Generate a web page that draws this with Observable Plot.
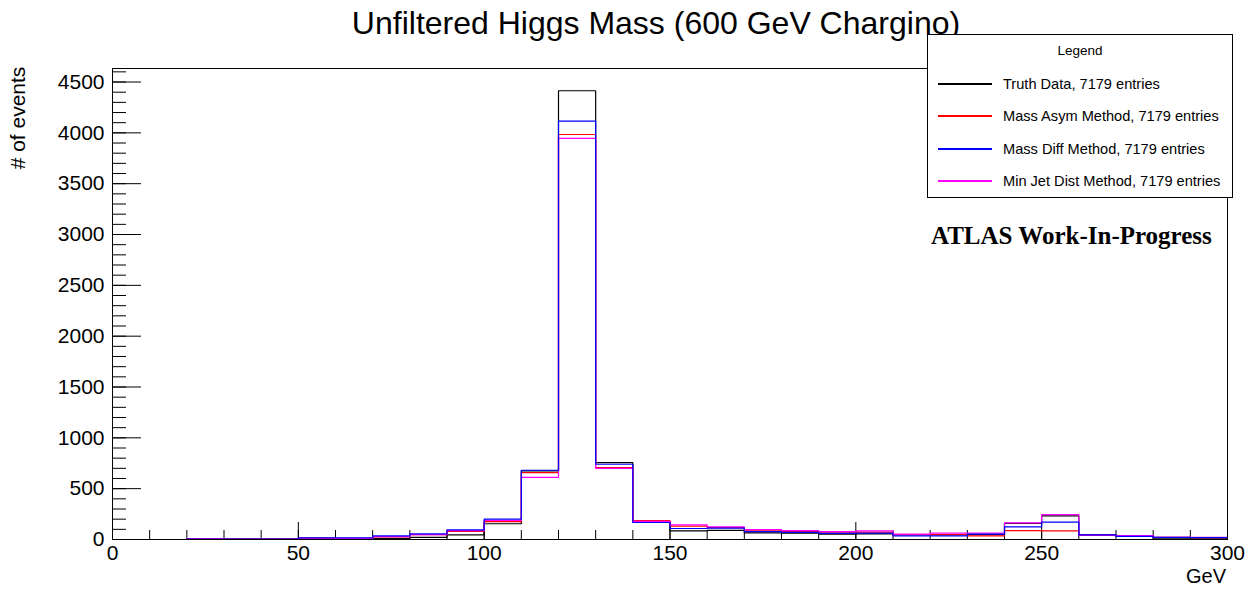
<!DOCTYPE html>
<html>
<head>
<meta charset="utf-8">
<script src="https://cdn.jsdelivr.net/npm/d3@7"></script>
<script src="https://cdn.jsdelivr.net/npm/@observablehq/plot@0.6"></script>
<style>
  html, body { margin: 0; padding: 0; background: white; }
  #wrap { position: relative; width: 1259px; height: 590px; overflow: hidden; font-family: "Liberation Sans", Arial, Helvetica, sans-serif; color: black; }
  .abs { position: absolute; white-space: nowrap; }
  #legend { position: absolute; left: 927px; top: 34px; width: 306px; height: 164px; border: 1px solid black; background: white; box-sizing: border-box; }
  .lg-row { position: absolute; left: 10px; height: 20px; display: flex; align-items: center; font-size: 14.6px; }
  .lg-line { width: 54px; height: 1.3px; margin-right: 11px; }
</style>
</head>
<body>
<div id="wrap"></div>
<script>
// ---- data ----
const binLow = [0,10,20,30,40,50,60,70,80,90,100,110,120,130,140,150,160,170,180,190,200,210,220,230,240,250,260,270,280,290];
const binWidth = 10;
const truthData   = [0,0,3,4,5,7,10,10,20,46,155,675,4414,756,172,85,90,65,62,53,55,47,47,47,158,232,45,30,13,13];
const massAsym    = [0,0,6,4,5,14,12,26,48,80,175,658,3984,707,185,131,117,91,80,72,72,47,47,36,88,85,42,39,20,18];
const massDiff    = [0,0,4,4,5,16,16,36,56,95,200,681,4116,740,167,108,111,78,70,60,62,36,36,52,125,170,45,30,20,18];
const minJetDist  = [0,0,7,5,5,14,12,29,48,88,188,612,3945,700,178,144,124,98,88,78,85,52,62,62,163,245,42,39,20,20];

const seriesNames  = ["Truth Data, 7179 entries","Mass Asym Method, 7179 entries","Mass Diff Method, 7179 entries","Min Jet Dist Method, 7179 entries"];
const seriesColors = ["#000000","#ff0000","#0000ff","#ff00ff"];
const seriesValues = [truthData, massAsym, massDiff, minJetDist];

const xTickLabels = [0,50,100,150,200,250,300];
const yTickLabels = [0,500,1000,1500,2000,2500,3000,3500,4000,4500];
const xMinorTicks = d3.range(0, 301, 10);
const yMinorTicks = d3.range(0, 4601, 100);
const yMax = 4633;

function steps(values) {
  const pts = binLow.map((lo, i) => ({x: lo, y: values[i]}));
  pts.push({x: binLow[binLow.length - 1] + binWidth, y: values[values.length - 1]});
  return pts;
}

const W = 1259, H = 590;
const mL = 112, mR = 32, mT = 68, mB = 51;
const frameW = W - mL - mR, frameH = H - mT - mB;

const drawOrder = [0, 1, 3, 2];

const chart = Plot.plot({
  width: W, height: H,
  marginLeft: mL, marginRight: mR, marginTop: mT, marginBottom: mB,
  style: {fontFamily: "Liberation Sans, Arial, Helvetica, sans-serif", fontSize: "21px", background: "white", color: "black", overflow: "visible"},
  x: {domain: [0, 300]},
  y: {domain: [0, yMax]},
  marks: [
    Plot.tickY(yMinorTicks, {y: d => d, stroke: "black", insetRight: frameW - 14}),
    Plot.tickY(yTickLabels, {y: d => d, stroke: "black", insetRight: frameW - 29}),
    Plot.tickX(xMinorTicks, {x: d => d, stroke: "black", insetTop: frameH - 9}),
    Plot.tickX(xTickLabels, {x: d => d, stroke: "black", insetTop: frameH - 17}),
    ...drawOrder.map(k => Plot.line(steps(seriesValues[k]), {x: "x", y: "y", curve: "step-after", stroke: seriesColors[k], strokeWidth: 1.2})),
    Plot.frame({stroke: "black"}),
    Plot.axisY({ticks: yTickLabels, tickSize: 0, tickPadding: 8, fontSize: 21, label: null, tickFormat: d => String(d)}),
    Plot.axisX({ticks: xTickLabels, tickSize: 0, tickPadding: 6, fontSize: 21, label: null, tickFormat: d => String(d)})
  ]
});

const wrap = document.getElementById("wrap");
chart.style.position = "absolute";
chart.style.left = "0px";
chart.style.top = "0px";
wrap.appendChild(chart);

function addText(txt, css) {
  const d = document.createElement("div");
  d.className = "abs";
  d.textContent = txt;
  Object.assign(d.style, css);
  wrap.appendChild(d);
  return d;
}

addText("Unfiltered Higgs Mass (600 GeV Chargino)", {left: "656px", top: "5px", transform: "translateX(-50%)", fontSize: "32px"});
addText("# of events", {left: "18px", top: "118px", transform: "translate(-50%,-50%) rotate(-90deg)", fontSize: "21px"});
addText("GeV", {right: "33px", top: "565px", fontSize: "20px"});

const legend = document.createElement("div");
legend.id = "legend";
wrap.appendChild(legend);
const lt = document.createElement("div");
lt.className = "abs";
lt.textContent = "Legend";
Object.assign(lt.style, {left: "50%", top: "8px", transform: "translateX(-50%)", fontSize: "13.5px"});
legend.appendChild(lt);
const rowCenters = [49, 81, 114, 146];
seriesNames.forEach((name, i) => {
  const r = document.createElement("div");
  r.className = "lg-row";
  r.style.top = (rowCenters[i] - 10) + "px";
  const ln = document.createElement("div");
  ln.className = "lg-line";
  ln.style.background = seriesColors[i];
  const tx = document.createElement("span");
  tx.textContent = name;
  r.appendChild(ln); r.appendChild(tx);
  legend.appendChild(r);
});

addText("ATLAS Work-In-Progress", {left: "931px", top: "222px", fontSize: "25px", fontWeight: "bold", fontFamily: "'Liberation Serif', 'Times New Roman', serif"});
</script>
</body>
</html>
